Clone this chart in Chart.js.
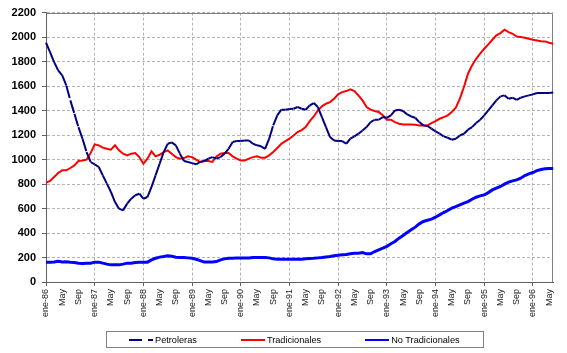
<!DOCTYPE html>
<html>
<head>
<meta charset="utf-8">
<script src="https://cdn.jsdelivr.net/npm/chart.js@4.4.1/dist/chart.umd.min.js"></script>
<style>
  html, body { margin: 0; padding: 0; background: #fff; }
  #wrap { position: relative; width: 567px; height: 353px; }
  #legend {
    position: absolute; left: 106px; top: 331px;
    box-sizing: border-box; width: 378px; height: 17px;
    border: 1px solid #808080;
    display: flex; align-items: center; padding-left: 22px;
    font: 9.2px "Liberation Sans", Arial, sans-serif; color: #000;
  }
  #legend .item { display: flex; align-items: center; margin-right: 44px; white-space: nowrap; }
  #legend .swatch { display: block; flex: none; width: 24px; margin-right: 2px; }
</style>
</head>
<body>
<div id="wrap">
  <canvas id="chart" width="567" height="353"></canvas>
  <div id="legend"></div>
</div>
<script>
// Exportaciones mensuales, ene-86 a jun-96

const monthNames = ['ene', 'feb', 'mar', 'abr', 'May', 'jun', 'jul', 'ago', 'Sep', 'oct', 'nov', 'dic'];
const years = ['86', '87', '88', '89', '90', '91', '92', '93', '94', '95', '96'];
const months = [];
years.forEach(y => {
  monthNames.forEach(m => {
    if (months.length < 126) months.push(m + '-' + y);
  });
});

const petroleras = [
  1955, 1878, 1796, 1728, 1687, 1605, 1483, 1374, 1265, 1170, 1061, 980,
  961, 939, 871, 803, 735, 653, 599, 585, 640, 680, 708, 721,
  680, 694, 776, 871, 966, 1061, 1129, 1140, 1116, 1048, 988, 980,
  971, 961, 980, 988, 1007, 1020, 1007, 1020, 1048, 1088, 1143, 1151,
  1151, 1156, 1156, 1129, 1116, 1108, 1088, 1170, 1279, 1361, 1407, 1407,
  1412, 1415, 1429, 1415, 1407, 1442, 1461, 1429, 1347, 1265, 1184, 1156,
  1151, 1151, 1129, 1170, 1189, 1211, 1238, 1265, 1306, 1325, 1325, 1347,
  1341, 1361, 1401, 1407, 1396, 1369, 1352, 1341, 1306, 1279, 1274, 1252,
  1230, 1211, 1189, 1178, 1162, 1170, 1197, 1211, 1244, 1265, 1298, 1325,
  1361, 1401, 1442, 1483, 1516, 1524, 1497, 1505, 1488, 1505, 1516, 1524,
  1532, 1543, 1543, 1543, 1543, 1548
];

const tradicionales = [
  811, 825, 857, 890, 912, 912, 931, 952, 988, 993, 999, 1053,
  1124, 1116, 1097, 1088, 1080, 1116, 1075, 1048, 1034, 1048, 1053, 1020,
  966, 1007, 1067, 1026, 1039, 1061, 1075, 1048, 1020, 1007, 1012, 1026,
  1020, 999, 980, 988, 988, 980, 1026, 1048, 1053, 1053, 1026, 1007,
  993, 993, 1007, 1020, 1026, 1015, 1015, 1034, 1061, 1094, 1129, 1151,
  1170, 1197, 1225, 1240, 1265, 1314, 1352, 1401, 1434, 1456, 1469, 1497,
  1532, 1551, 1559, 1573, 1559, 1524, 1483, 1429, 1407, 1396, 1388, 1361,
  1325, 1325, 1306, 1292, 1287, 1287, 1287, 1284, 1279, 1279, 1279, 1298,
  1314, 1333, 1347, 1361, 1388, 1423, 1497, 1592, 1701, 1769, 1823, 1864,
  1905, 1940, 1978, 2014, 2033, 2060, 2041, 2027, 2005, 2000, 1995, 1986,
  1978, 1973, 1967, 1965, 1954, 1946
];

const noTradicionales = [
  162, 162, 164, 169, 164, 166, 162, 159, 154, 152, 154, 154,
  162, 162, 154, 146, 140, 140, 140, 146, 154, 154, 159, 162,
  162, 162, 181, 194, 203, 208, 214, 210, 203, 200, 200, 197,
  194, 186, 175, 163, 163, 163, 167, 181, 189, 194, 194, 197,
  197, 197, 197, 200, 200, 200, 200, 197, 189, 186, 186, 186,
  186, 186, 186, 186, 189, 192, 194, 197, 200, 205, 208, 214,
  219, 222, 225, 230, 235, 235, 241, 230, 230, 249, 263, 276,
  290, 312, 331, 358, 380, 404, 426, 448, 475, 494, 504, 513,
  529, 548, 567, 584, 603, 616, 630, 644, 657, 676, 692, 703,
  711, 730, 752, 766, 780, 799, 815, 826, 834, 848, 869, 883,
  894, 909, 919, 924, 926, 926
];

const seriesNames = ['Petroleras', 'Tradicionales', 'No Tradicionales'];

const FONT = '"Liberation Sans", Arial, sans-serif';
const GRID = '#b4b4b4';

// marco gris arriba y a la derecha del area del grafico
const plotFrame = {
  id: 'plotFrame',
  beforeDatasetsDraw(chart) {
    const { ctx, chartArea: a } = chart;
    const top = Math.round(a.top) + 0.5;
    const right = Math.round(a.right) - 0.5;
    ctx.save();
    ctx.strokeStyle = '#808080';
    ctx.lineWidth = 1;
    ctx.beginPath();
    ctx.moveTo(a.left, top);
    ctx.lineTo(right, top);
    ctx.lineTo(right, a.bottom);
    ctx.stroke();
    ctx.restore();
  }
};

const chart = new Chart(document.getElementById('chart'), {
  type: 'line',
  data: {
    labels: months,
    datasets: [{
      label: seriesNames[0],
      data: petroleras,
      borderColor: '#000080',
      borderWidth: 2,
      borderDash: [13, 6],
      // Excel restarts the dash on every segment
      segment: {
        borderDash: () => [13, 6],
        borderDashOffset: c => (c.p0DataIndex % 2) * 0.01
      }
    }, {
      label: seriesNames[1],
      data: tradicionales,
      borderColor: '#ff0000',
      borderWidth: 2
    }, {
      label: seriesNames[2],
      data: noTradicionales,
      borderColor: '#0000ff',
      borderWidth: 3
    }]
  },
  options: {
    responsive: false,
    animation: false,
    layout: {
      padding: { left: 6, right: 12, top: 12, bottom: 35 }
    },
    elements: {
      point: { radius: 0 },
      line: { tension: 0, fill: false }
    },
    plugins: {
      legend: { display: false },
      tooltip: { enabled: false }
    },
    scales: {
      x: {
        ticks: {
          autoSkip: false,
          minRotation: 90,
          maxRotation: 90,
          padding: 3,
          color: '#222',
          font: { family: FONT, size: 9 },
          callback: function(value, index) {
            const m = index % 12;
            if (m === 0) return months[index];
            if (m === 4 || m === 8) return monthNames[m];
            return '';
          }
        },
        grid: {
          color: c => (c.index % 12 === 0 ? GRID : 'transparent'),
          tickColor: c => (c.index % 12 === 0 ? '#606060' : 'transparent'),
          tickLength: 4
        },
        border: { color: '#606060', dash: [3, 2] },
        afterFit: s => { s.height = 36; }
      },
      y: {
        min: 0,
        max: 2200,
        ticks: {
          stepSize: 200,
          padding: 6,
          color: '#000',
          font: { family: FONT, size: 11, weight: 'bold' },
          callback: v => String(v)
        },
        grid: {
          color: GRID,
          tickColor: '#606060',
          tickLength: 4
        },
        border: { color: '#606060', dash: [3, 2] },
        afterFit: s => { s.width = 40; }
      }
    }
  },
  plugins: [plotFrame]
});

// HTML legend built from the datasets
const legendLineWidth = [2, 2, 2];
const legendEl = document.getElementById('legend');
chart.data.datasets.forEach((ds, i) => {
  const item = document.createElement('span');
  item.className = 'item';
  const sw = document.createElement('span');
  sw.className = 'swatch';
  sw.style.height = legendLineWidth[i] + 'px';
  if (ds.borderDash) {
    const [on, off] = ds.borderDash;
    sw.style.background = 'linear-gradient(to right, ' + ds.borderColor + ' 0 ' + on + 'px, transparent ' +
      on + 'px ' + (on + off) + 'px, ' + ds.borderColor + ' ' + (on + off) + 'px 24px)';
  } else {
    sw.style.backgroundColor = ds.borderColor;
  }
  const txt = document.createElement('span');
  txt.textContent = ds.label;
  item.appendChild(sw);
  item.appendChild(txt);
  legendEl.appendChild(item);
});
</script>
</body>
</html>
